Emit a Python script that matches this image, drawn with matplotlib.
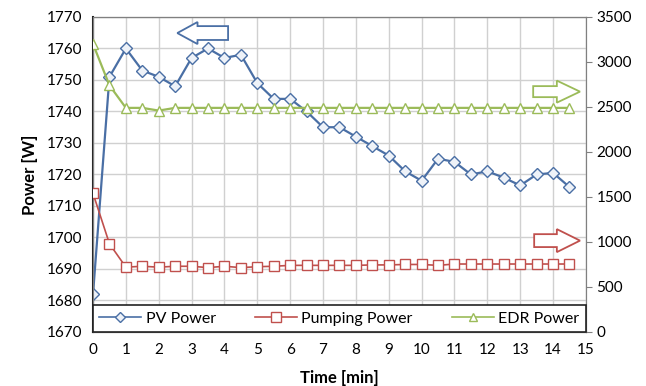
import matplotlib.pyplot as plt
from matplotlib.patches import Polygon
from matplotlib.lines import Line2D

#%% DATA
time_min = [0, 0.5, 1, 1.5, 2, 2.5, 3, 3.5, 4, 4.5, 5, 5.5, 6, 6.5, 7,
            7.5, 8, 8.5, 9, 9.5, 10, 10.5, 11, 11.5, 12, 12.5, 13, 13.5, 14, 14.5]
pv_power = [1682, 1751, 1760, 1753, 1751, 1748, 1757, 1760, 1757, 1758,
            1749, 1744, 1744, 1740, 1735, 1735, 1732, 1729, 1726, 1721,
            1718, 1725, 1724, 1720, 1721, 1719, 1716.5, 1720, 1720.5, 1716]
pumping_power = [1540, 980, 720, 730, 720, 730, 730, 715, 730, 715,
                 725, 730, 740, 740, 740, 740, 740, 745, 745, 750,
                 750, 740, 755, 755, 755, 755, 755, 755, 755, 755]
edr_power = [3200, 2740, 2490, 2490, 2460, 2490, 2490, 2490, 2490, 2490,
             2490, 2490, 2490, 2490, 2490, 2490, 2490, 2490, 2490, 2490,
             2490, 2490, 2490, 2490, 2490, 2490, 2490, 2490, 2490, 2490]

left_ticks = list(range(1670, 1771, 10))
right_ticks = list(range(0, 3501, 500))
x_ticks = list(range(0, 16))

blue = '#4a6fa5'
red = '#c0504d'
green = '#9bbb59'

plt.rcParams['font.family'] = ['Lato', 'DejaVu Sans']

#%% PLOT
fig = plt.figure(figsize=(6.46, 3.86), dpi=100)
ax = fig.add_axes([0.144, 0.14, 0.763, 0.816])
ax2 = ax.twinx()

ax.plot(time_min, pv_power, color=blue, marker='D', markersize=6.5,
        markerfacecolor='#eef2f8', markeredgecolor=blue, lw=1.6, zorder=3)
ax2.plot(time_min, pumping_power, color=red, marker='s', markersize=7.5,
         markerfacecolor='white', markeredgecolor=red, lw=1.2, zorder=3)
ax2.plot(time_min, edr_power, color=green, marker='^', markersize=7.5,
         markerfacecolor='white', markeredgecolor=green, lw=1.6, zorder=3)

ax.set_xlim(0, 15)
ax.set_ylim(1670, 1770)
ax2.set_ylim(0, 3500)
ax.set_xticks(x_ticks)
ax.set_yticks(left_ticks)
ax2.set_yticks(right_ticks)
ax.grid(True, color='#d0d0d0', lw=1)
ax.set_axisbelow(True)

for a in (ax, ax2):
    a.tick_params(labelsize=11, length=4, color='#808080')
    for s in a.spines.values():
        s.set_color('#808080')
ax.spines['left'].set_color('#222222')
ax.spines['bottom'].set_color('#222222')
ax.spines['top'].set_color('#222222')
ax.spines['left'].set_linewidth(1.5)
ax.spines['bottom'].set_linewidth(1.5)
ax.tick_params(axis='x', length=0, pad=8)
ax.tick_params(axis='y', length=0, pad=8)

ax.set_xlabel('Time [min]', fontsize=12, fontweight='bold', labelpad=9)
ax.set_ylabel('Power [W]', fontsize=12, fontweight='bold', labelpad=6)

# legend band at bottom of plot area
handles = [
    Line2D([], [], color=blue, marker='D', markersize=5, markerfacecolor='#eef2f8', lw=1.2),
    Line2D([], [], color=red, marker='s', markersize=7, markerfacecolor='white', lw=1.2),
    Line2D([], [], color=green, marker='^', markersize=6, markerfacecolor='white', lw=1.2),
]
leg = ax2.legend(handles, ['PV Power', 'Pumping Power', 'EDR Power'],
                 loc='lower left', bbox_to_anchor=(0, 0, 1, 0.11), mode='expand',
                 ncol=3, borderaxespad=0, fancybox=False, fontsize=11.5,
                 handlelength=2.6, handletextpad=0.3, framealpha=1, borderpad=0.4)
leg.get_frame().set_edgecolor('#222222')
leg.get_frame().set_linewidth(1.2)
leg.set_zorder(5)

# hollow arrows showing which axis each series uses
def hollow_arrow(x_tail, x_tip, y_mid, body_h, head_h, head_len, color):
    d = 1 if x_tip > x_tail else -1
    x_neck = x_tip - d * head_len
    pts = [(x_tail, y_mid - body_h / 2), (x_neck, y_mid - body_h / 2),
           (x_neck, y_mid - head_h / 2), (x_tip, y_mid),
           (x_neck, y_mid + head_h / 2), (x_neck, y_mid + body_h / 2),
           (x_tail, y_mid + body_h / 2)]
    ax2.add_patch(Polygon(pts, closed=True, transform=ax2.transAxes,
                          facecolor='white', edgecolor=color, lw=1.3, zorder=4))

hollow_arrow(0.274, 0.171, 0.949, 0.044, 0.07, 0.041, blue)
hollow_arrow(0.893, 0.988, 0.763, 0.035, 0.07, 0.047, green)
hollow_arrow(0.895, 0.988, 0.290, 0.041, 0.073, 0.047, red)

fig.savefig('out.png', dpi=100)
